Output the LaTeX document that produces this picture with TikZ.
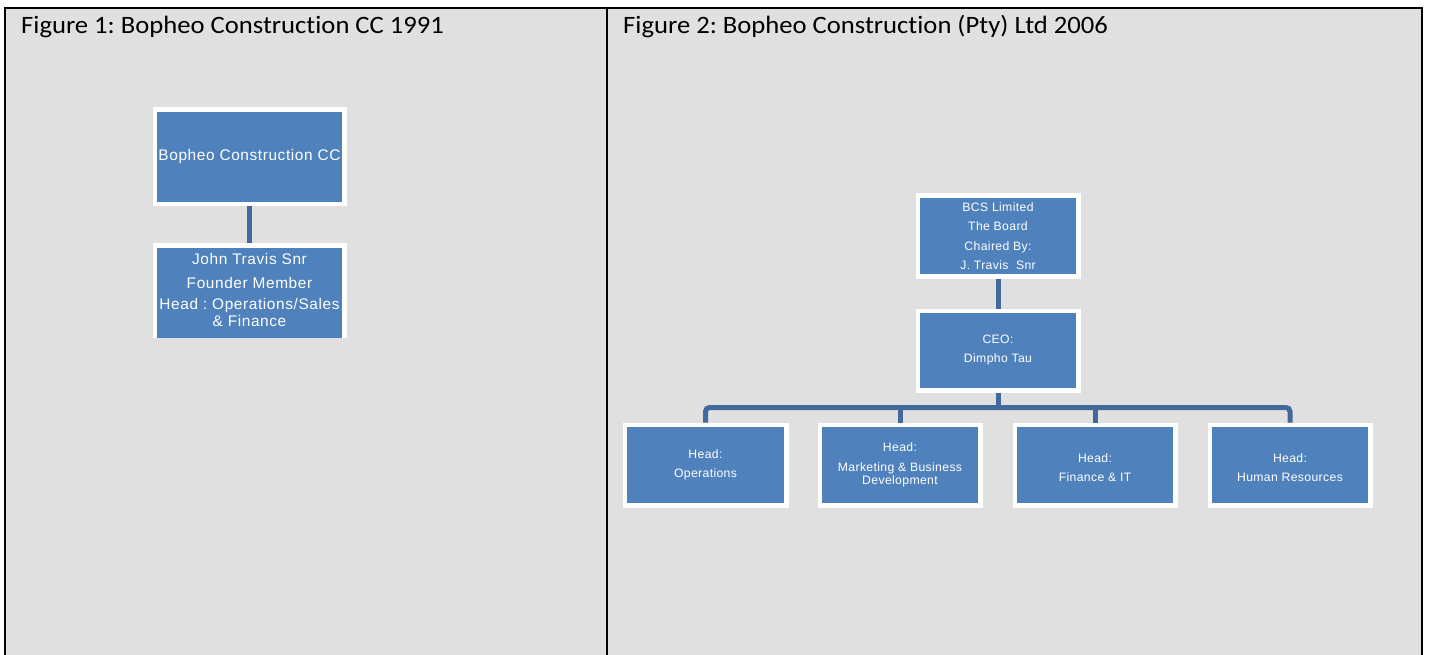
\documentclass[tikz,border=0pt]{standalone}
\usepackage{fontspec}
\setmainfont{Carlito}[Ligatures=NoCommon]
\newfontfamily\boxfontL{Liberation Sans}[LetterSpace=4]
\newfontfamily\boxfontS{Liberation Sans}[LetterSpace=3]
\definecolor{cellgray}{HTML}{E0E0E0}
\definecolor{boxblue}{HTML}{4F81BD}
\definecolor{connblue}{HTML}{41699B}
\frenchspacing
\begin{document}
\begin{tikzpicture}[x=1pt,y=-1pt,
  box/.style={draw=white, line width=4.5pt, fill=boxblue, text=white, align=center, inner sep=0pt},
  bigtext/.style={text=white, align=center, inner sep=0pt, font=\boxfontL\fontsize{15.4}{19}\selectfont},
  smalltext/.style={font=\boxfontS\fontsize{12.2}{13}\selectfont},
  conn/.style={draw=connblue, line width=5pt},
  title/.style={anchor=base west, inner sep=0pt, xscale=1.065, font=\fontsize{25}{30}\selectfont},
  rule/.style={draw=black, line width=2.5pt}]
\useasboundingbox (0,0) rectangle (1430,655);
\clip (0,0) rectangle (1430,655);
\fill[white] (0,0) rectangle (1430,655);
\fill[cellgray] (5,8) rectangle (1422,670);
\draw[rule] (5,670) -- (5,8) -- (1422,8) -- (1422,670);
\draw[rule] (607,8) -- (607,670);

\node[title] (t1) at (21,34) {Figure 1: Bopheo Construction CC 1991};
\node[title] (t2) at (623,34) {Figure 2: Bopheo Construction (Pty) Ltd 2006};

% Figure 1
\node[box, minimum width=189.5pt, minimum height=94.5pt, font=\boxfontL\fontsize{15.4}{19}\selectfont] (b1) at (249.5,157) {Bopheo Construction CC};
\begin{scope}
\clip (0,0) rectangle (1430,337);
\node[box, minimum width=189.5pt, minimum height=98.5pt] (b2) at (249.5,295) {};
\end{scope}
\node[bigtext] (b2t) at (249.5,290) {John Travis Snr\\[5pt]Founder Member\\[2pt]Head : Operations/Sales\\[-2pt]\& Finance};
\draw[conn] (b1.south) -- (b2.north);

% Figure 2
\node[box, smalltext, minimum width=160.5pt, minimum height=80.5pt, font=\boxfontS\fontsize{12.2}{19.3}\selectfont] (board) at (998,236) {BCS Limited\\The Board\\Chaired By:\\J. Travis\ \ Snr};
\node[box, smalltext, minimum width=160.5pt, minimum height=79.5pt, font=\boxfontS\fontsize{12.2}{19}\selectfont] (ceo) at (998,350.5) {CEO:\\Dimpho Tau};
\node[box, smalltext, minimum width=161.5pt, minimum height=80.5pt] (ops) at (705.5,465) {Head:\\[6pt]Operations};
\node[box, smalltext, minimum width=160.5pt, minimum height=80.5pt] (mkt) at (900,465) {Head:\\[7pt]Marketing \& Business\\Development};
\node[box, smalltext, minimum width=160.5pt, minimum height=80.5pt] (fin) at (1095,465) {\rule{0pt}{2pt}\\[-1pt]Head:\\[6pt]Finance \& IT};
\node[box, smalltext, minimum width=160.5pt, minimum height=80.5pt] (hr) at (1290,465) {\rule{0pt}{2pt}\\[-1pt]Head:\\[6pt]Human Resources};

\coordinate (bar) at (998,407.5);
\draw[conn] (board.south) -- (ceo.north);
\draw[conn, rounded corners=4pt] (ops.north) -- (ops.north |- bar) -- (hr.north |- bar) -- (hr.north);
\draw[conn] (ceo.south) -- (bar);
\draw[conn] (mkt.north) -- (mkt.north |- bar);
\draw[conn] (fin.north) -- (fin.north |- bar);
\end{tikzpicture}
\end{document}
